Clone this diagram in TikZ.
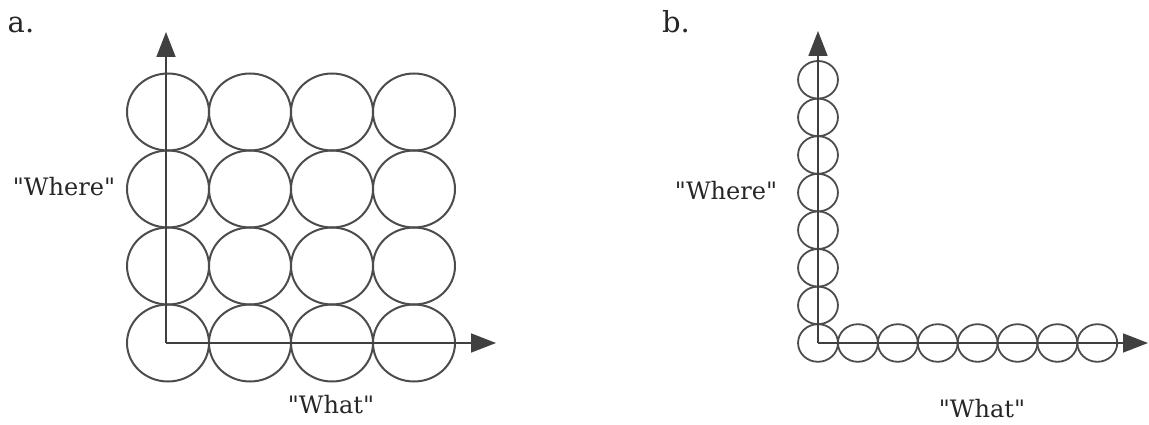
\documentclass[tikz,border=0pt]{standalone}
\usepackage{fontspec}
\newfontfamily\labfont{DejaVu Serif}
\usepackage{tikz}
\usetikzlibrary{arrows.meta,positioning,shapes.geometric}

\begin{document}
\begin{tikzpicture}[
    x=1pt, y=-1pt,
    every node/.style={font=\labfont\fontsize{24}{28}\selectfont, text=black!85},
    big/.style={draw=black!70, line width=2pt, ellipse, inner sep=0pt, minimum width=82pt, minimum height=77pt},
    small/.style={draw=black!70, line width=1.8pt, ellipse, inner sep=0pt, minimum width=39.9pt, minimum height=37.6pt},
    axis/.style={draw=black!75, line width=1.6pt, -{Triangle[length=25pt, width=19pt]}},
    tag/.style={font=\labfont\fontsize{29}{32}\selectfont, anchor=base}
  ]
  \useasboundingbox (0,0) rectangle (1149,425);

  % a. grid of units
  \node[tag] (ta) at (21,33) {a.};
  \foreach \i in {0,...,3}
    \foreach \j in {0,...,3}
      \node[big] (a-\i-\j) at (168+82*\i, 343-77*\j) {};
  \coordinate (oa) at (166,343);
  \coordinate (ya) at (166,32);
  \coordinate (xa) at (496,343);
  \draw[axis] (oa) -- (ya);
  \draw[axis] (oa) -- (xa);
  \node[anchor=base] (wherea) at (64,195) {"Where"};
  \node[anchor=base] (whata) at (331,413) {"What"};

  % b. separate units
  \node[tag] (tb) at (676,33) {b.};
  \foreach \j in {0,...,7}
    \node[small] (bv-\j) at (818, 343-37.6*\j) {};
  \foreach \i in {1,...,7}
    \node[small] (bh-\i) at (818+39.9*\i, 343) {};
  \coordinate (ob) at (818,343);
  \coordinate (yb) at (818,31);
  \coordinate (xb) at (1148,343);
  \draw[axis] (ob) -- (yb);
  \draw[axis] (ob) -- (xb);
  \node[anchor=base] (whereb) at (726,199) {"Where"};
  \node[anchor=base] (whatb) at (982,417) {"What"};
\end{tikzpicture}
\end{document}
